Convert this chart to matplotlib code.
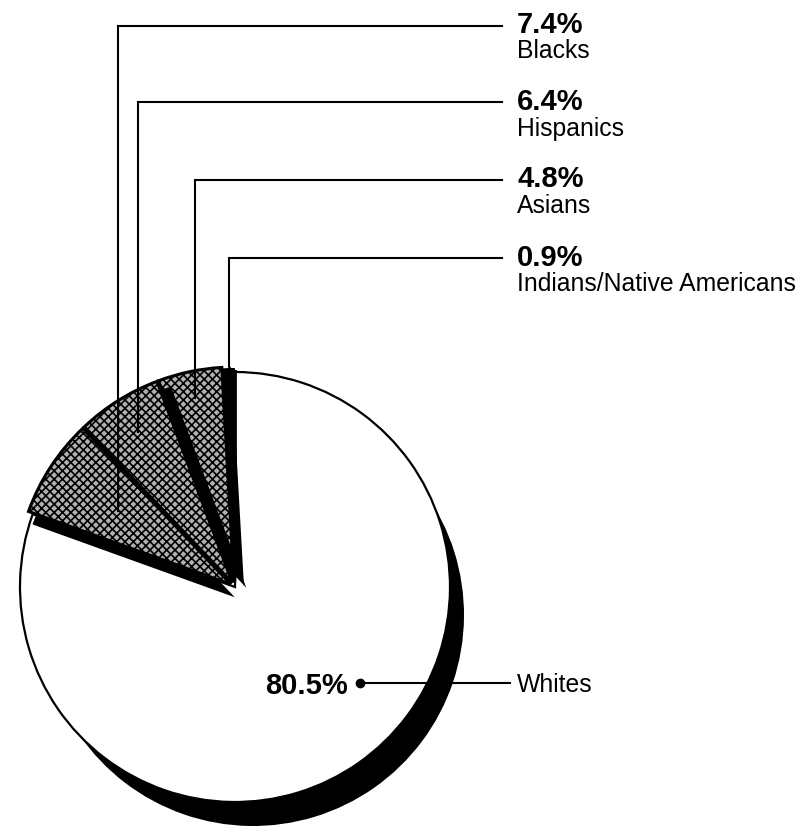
import numpy as np
import matplotlib
matplotlib.use("Agg")
import matplotlib.pyplot as plt

# ---- data ----
categories = ["Whites", "Blacks", "Hispanics", "Asians", "Indians/Native Americans"]
values = [80.5, 7.4, 6.4, 4.8, 0.9]
pct_labels = ["80.5%", "7.4%", "6.4%", "4.8%", "0.9%"]

# ---- layout (pixel space, y measured from top) ----
W, H = 800, 832
def Y(y):
    return H - y

cx, cy, R = 235, Y(587), 215
plt.rcParams['hatch.linewidth'] = 1.2
FONT = "Liberation Sans"

fig = plt.figure(figsize=(W / 100, H / 100), dpi=100)
ax = fig.add_axes([0, 0, 1, 1])

n = len(values)
wp0 = dict(linewidth=0)

# shadow under the large slice
cols = ['black'] + ['none'] * (n - 1)
ax.pie(values, startangle=90, counterclock=False, center=(cx + 18, cy - 28),
       radius=R - 4, colors=cols, wedgeprops=wp0)

# large slice
cols = ['white'] + ['none'] * (n - 1)
ax.pie(values, startangle=90, counterclock=False, center=(cx, cy), radius=R,
       colors=cols, wedgeprops=dict(linewidth=1.6, edgecolor='black'))
for p in ax.patches[-(n - 1):]:
    p.set_linewidth(0)

# small slices: black side (offset) then halftone face, drawn from last to first
side_offsets = {1: (4, -13), 2: (14, -5), 3: (10, -4), 4: (2, -2)}
explode = [0, 5, 5, 5, 4]
face_cols = {1: '#b0b0b0', 2: '#b0b0b0', 3: '#b0b0b0', 4: 'black'}
for i in [4, 3, 2, 1]:
    dx, dy = side_offsets[i]
    cols = ['none'] * n
    cols[i] = 'black'
    ax.pie(values, startangle=90, counterclock=False, center=(cx + dx, cy + dy),
           radius=R, colors=cols, explode=explode, wedgeprops=wp0)
    cols = ['none'] * n
    cols[i] = face_cols[i]
    wedges, _ = ax.pie(values, startangle=90, counterclock=False, center=(cx, cy),
                       radius=R, colors=cols, explode=explode, wedgeprops=wp0)
    for j, w in enumerate(wedges):
        if j != i:
            w.set_visible(False)
    if i != 4:
        wedges[i].set_hatch('xxxx')
        wedges[i].set_edgecolor('black')
        wedges[i].set_linewidth(2.2)

# ---- leader lines and labels ----
total = float(sum(values))
cum = np.cumsum([0] + values[:-1])
mid_angles = [np.deg2rad(90 - 360 * (c + v / 2) / total) for c, v in zip(cum, values)]

anchor_frac = [None, 0.65, 0.85, 0.90, 1.03]
line_y = [None, 26, 102, 180, 258]
pct_base = [None, 33, 110, 187, 266]
name_base = [None, 58, 136, 213, 291]
line_end_x = 502
text_x = 517

for i in range(1, n):
    a = mid_angles[i]
    ax_ = cx + anchor_frac[i] * R * np.cos(a)
    ay_ = cy + anchor_frac[i] * R * np.sin(a)
    ax.plot([ax_, ax_, line_end_x], [ay_, Y(line_y[i]), Y(line_y[i])],
            color='black', lw=1.5, solid_joinstyle='miter', zorder=5)
    ax.text(text_x, Y(pct_base[i]), pct_labels[i], fontsize=21, fontweight='bold',
            family=FONT, va='baseline', ha='left', zorder=6)
    ax.text(text_x, Y(name_base[i]), categories[i], fontsize=17.8, family=FONT,
            va='baseline', ha='left', zorder=6)
    if i == n - 1:
        ax.plot([ax_], [ay_ - 6], marker='^', ms=9, color='black', zorder=5)

# Whites label
wy = Y(683)
ax.plot([360, 510], [wy, wy], color='black', lw=1.5, zorder=5)
ax.plot([360], [wy], marker='o', ms=6, color='black', zorder=6)
ax.text(348, wy, pct_labels[0], fontsize=21, fontweight='bold', family=FONT,
        va='center_baseline', ha='right', zorder=6)
ax.text(517, wy, categories[0], fontsize=17.8, family=FONT,
        va='center_baseline', ha='left', zorder=6)

ax.set_xlim(0, W)
ax.set_ylim(0, H)
ax.set_aspect('auto')
ax.axis('off')
fig.savefig("out.png", dpi=100, facecolor='white')
